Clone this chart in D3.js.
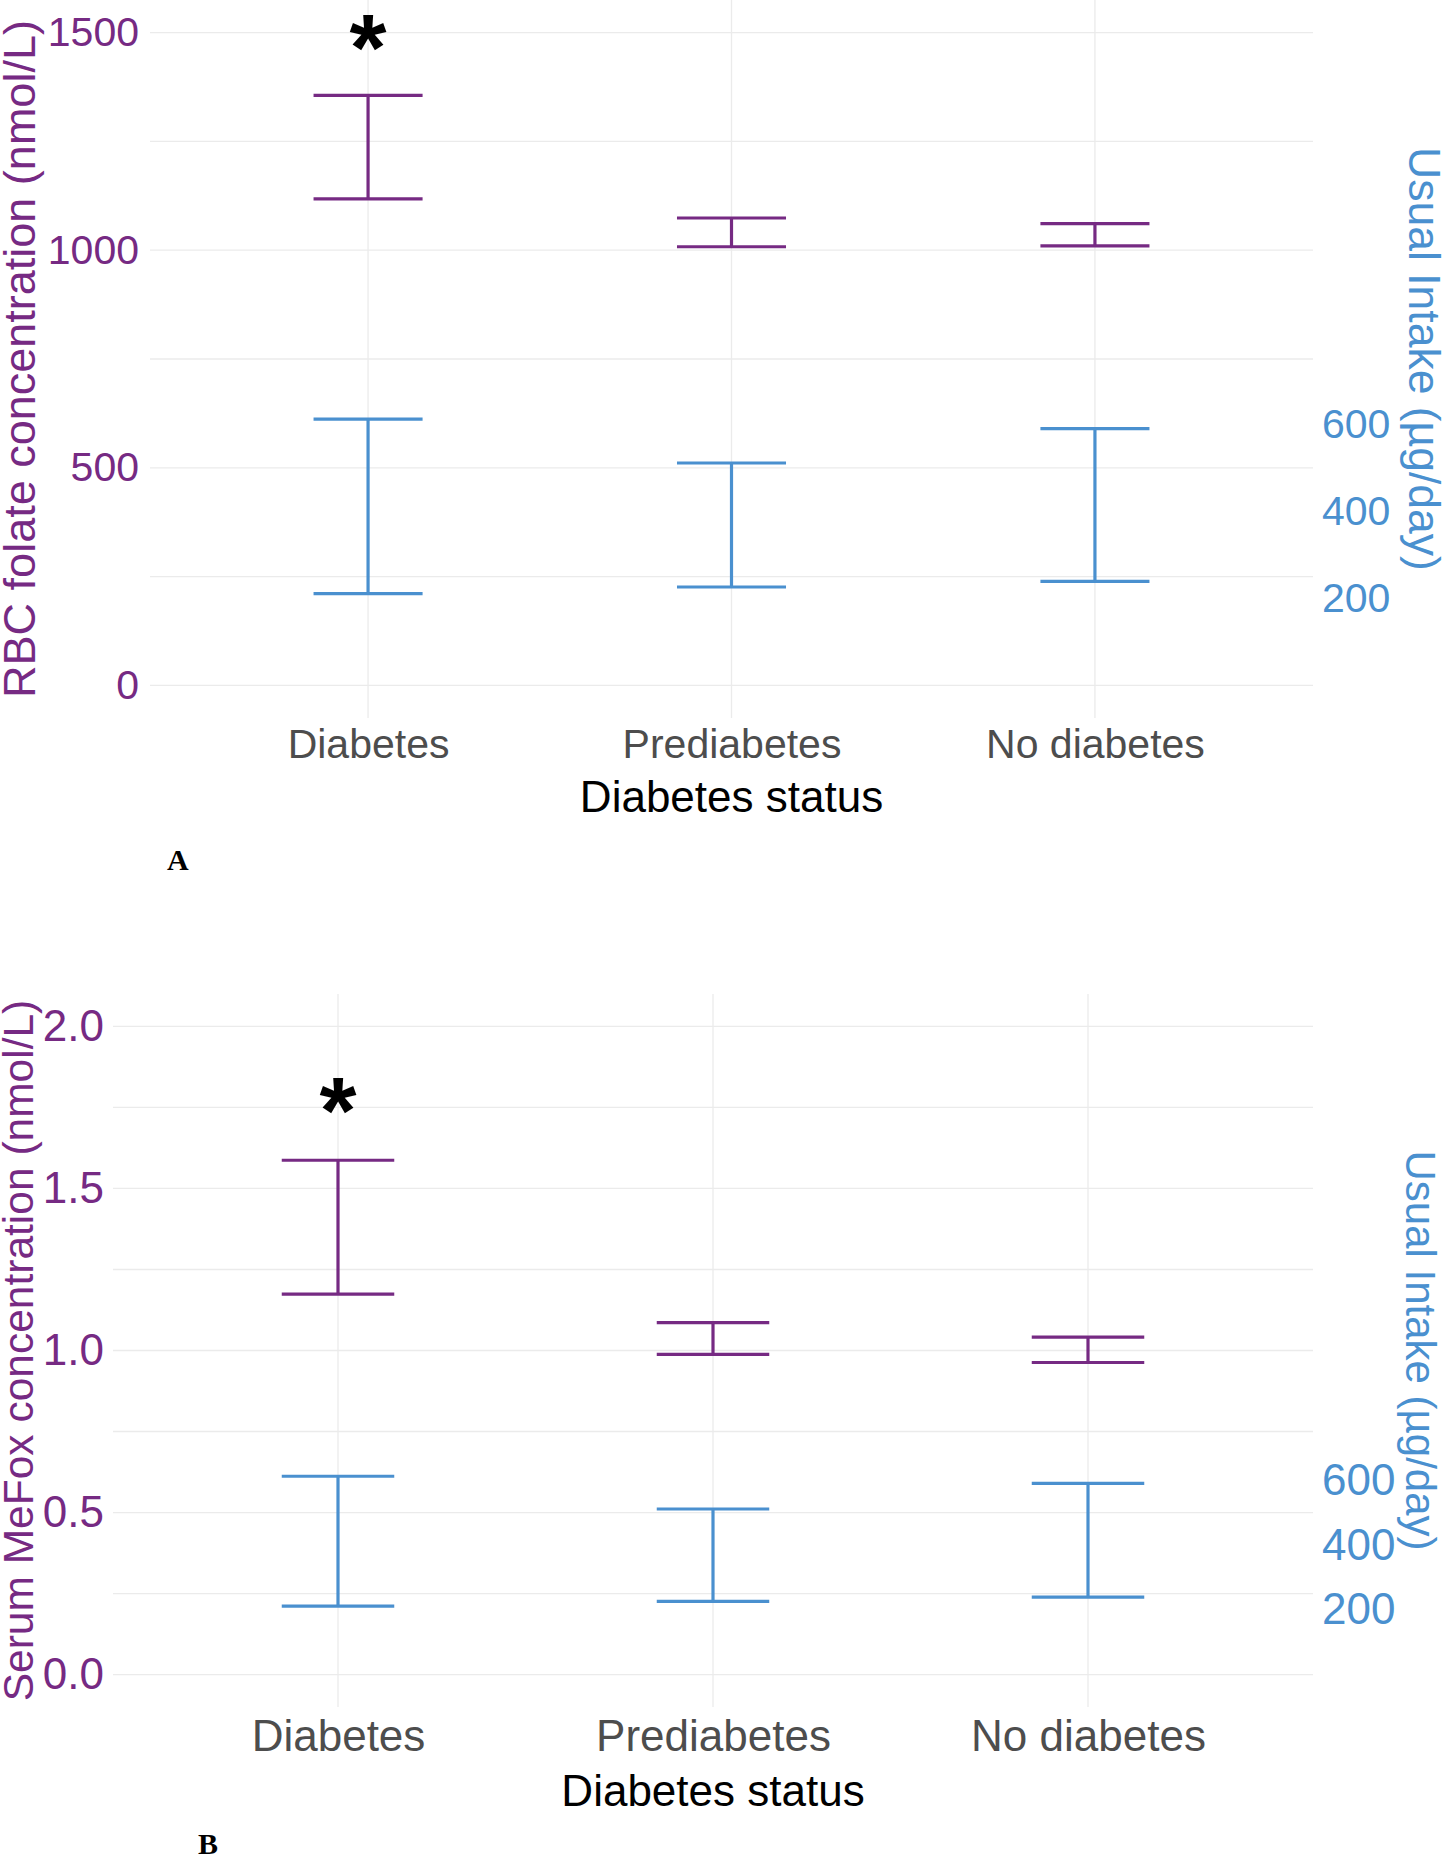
<!DOCTYPE html>
<html>
<head>
<meta charset="utf-8">
<script src="https://cdn.jsdelivr.net/npm/d3@7"></script>
<style>
  html, body { margin: 0; padding: 0; background: #fff; }
  svg { display: block; font-family: "Liberation Sans", Arial, sans-serif; }
</style>
</head>
<body>
<div id="chart"></div>
<script>
// categories + CI bounds
const categories = ["Diabetes", "Prediabetes", "No diabetes"];
const rbcLow = [1118, 1008, 1010];
const rbcHigh = [1356, 1074, 1061];
const mefoxLow = [1.174, 0.988, 0.963];
const mefoxHigh = [1.587, 1.086, 1.041];
const intakeLow = [211, 226, 239];
const intakeHigh = [612, 511, 590];
const rbcTicks = [0, 500, 1000, 1500];
const mefoxTicks = [0, 0.5, 1.0, 1.5, 2.0];
const intakeTicks = [200, 400, 600];
const rbcStars = [1495, null, null];
const mefoxStars = [1.78, null, null];

const PURPLE = "#762A83", BLUE = "#4A90CF", GRID = "#EBEBEB";

const svg = d3.select("#chart").append("svg").attr("width", 1443).attr("height", 1855);

function panel(o) {
  const g = svg.append("g");
  const x = d3.scalePoint().domain(categories).range([o.left, o.right]).padding(0.6);
  const yL = d3.scaleLinear().domain(o.domL).range([o.bottom, o.top]);
  const yR = d3.scaleLinear().domain(o.domR).range([o.bottom, o.top]);
  const cap = x.step() * 0.3;

  // grid: major + minor lines (theme_minimal look)
  const gy = g.append("g");
  gy.selectAll("line").data(o.grid).join("line")
    .attr("x1", o.left).attr("x2", o.right)
    .attr("y1", d => yL(d)).attr("y2", d => yL(d))
    .attr("stroke", GRID).attr("stroke-width", 1.3);
  gy.selectAll("line.v").data(categories).join("line").attr("class", "v")
    .attr("x1", d => x(d)).attr("x2", d => x(d))
    .attr("y1", o.top).attr("y2", o.bottom)
    .attr("stroke", GRID).attr("stroke-width", 1.3);

  // error bars
  function bars(lo, hi, scale, color) {
    const eb = g.append("g").attr("stroke", color).attr("stroke-width", 3.2).attr("fill", "none");
    categories.forEach((c, i) => {
      const cx = x(c);
      eb.append("line").attr("x1", cx).attr("x2", cx).attr("y1", scale(lo[i])).attr("y2", scale(hi[i]));
      eb.append("line").attr("x1", cx - cap / 2).attr("x2", cx + cap / 2).attr("y1", scale(lo[i])).attr("y2", scale(lo[i]));
      eb.append("line").attr("x1", cx - cap / 2).attr("x2", cx + cap / 2).attr("y1", scale(hi[i])).attr("y2", scale(hi[i]));
    });
  }
  bars(o.low, o.high, yL, PURPLE);
  bars(intakeLow, intakeHigh, yR, BLUE);

  // significance stars
  g.selectAll("text.star").data(categories.map((c, i) => [c, o.stars[i]]).filter(d => d[1] != null))
    .join("text").attr("class", "star")
    .attr("x", d => x(d[0])).attr("y", d => yL(d[1]) + 0.48 * o.starSize)
    .attr("text-anchor", "middle").attr("font-size", o.starSize).attr("font-weight", "bold")
    .attr("fill", "#000").text("*");

  // axes
  const ax = (sel, color, fs) => {
    sel.select(".domain").remove();
    sel.selectAll(".tick line").remove();
    sel.selectAll("text").attr("fill", color).attr("font-size", fs).attr("font-family", "Liberation Sans, Arial, sans-serif");
  };
  g.append("g").attr("transform", `translate(${o.left},0)`)
    .call(d3.axisLeft(yL).tickValues(o.ticks).tickSize(0).tickPadding(o.padL).tickFormat(o.fmt))
    .call(s => ax(s, PURPLE, o.tickFs));
  g.append("g").attr("transform", `translate(${o.right},0)`)
    .call(d3.axisRight(yR).tickValues(intakeTicks).tickSize(0).tickPadding(9))
    .call(s => ax(s, BLUE, o.tickFs));
  g.append("g").attr("transform", `translate(0,${o.bottom})`)
    .call(d3.axisBottom(x).tickSize(0).tickPadding(o.padB))
    .call(s => ax(s, "#4D4D4D", o.tickFs));

  // titles
  const midY = (o.top + o.bottom) / 2;
  g.append("text").attr("transform", `translate(${o.titleLx},${midY}) rotate(-90)`)
    .attr("text-anchor", "middle").attr("fill", PURPLE).attr("font-size", o.titleLFs).text(o.titleL);
  g.append("text").attr("transform", `translate(${o.titleRx},${midY}) rotate(90)`)
    .attr("text-anchor", "middle").attr("fill", BLUE).attr("font-size", o.titleRFs).text("Usual Intake (µg/day)");
  g.append("text").attr("x", x("Prediabetes")).attr("y", o.xTitleY)
    .attr("text-anchor", "middle").attr("fill", "#000").attr("font-size", 44).text("Diabetes status");
  g.append("text").attr("x", o.tagX).attr("y", o.tagY)
    .attr("font-family", "Liberation Serif, Times New Roman, serif").attr("font-weight", "bold")
    .attr("font-size", 30).attr("fill", "#000").text(o.tag);
}

panel({
  left: 150, right: 1313, top: 0, bottom: 718,
  domL: [-75, 1575], domR: [-75, 1575],
  grid: [0, 250, 500, 750, 1000, 1250, 1500],
  ticks: rbcTicks, fmt: d3.format("d"),
  low: rbcLow, high: rbcHigh, stars: rbcStars, starSize: 95,
  tickFs: 41, padL: 11, padB: 11,
  titleL: "RBC folate concentration (nmol/L)", titleLx: 35, titleLFs: 45,
  titleRx: 1409, titleRFs: 44.5,
  xTitleY: 812, tag: "A", tagX: 167, tagY: 870
});

panel({
  left: 113, right: 1313, top: 994, bottom: 1707,
  domL: [-0.1, 2.1], domR: [-100, 2100],
  grid: [0, 0.25, 0.5, 0.75, 1.0, 1.25, 1.5, 1.75, 2.0],
  ticks: mefoxTicks, fmt: d3.format(".1f"),
  low: mefoxLow, high: mefoxHigh, stars: mefoxStars, starSize: 95,
  tickFs: 44, padL: 9, padB: 13,
  titleL: "Serum MeFox concentration (nmol/L)", titleLx: 33, titleLFs: 42.5,
  titleRx: 1406, titleRFs: 42,
  xTitleY: 1806, tag: "B", tagX: 198, tagY: 1854
});
</script>
</body>
</html>
